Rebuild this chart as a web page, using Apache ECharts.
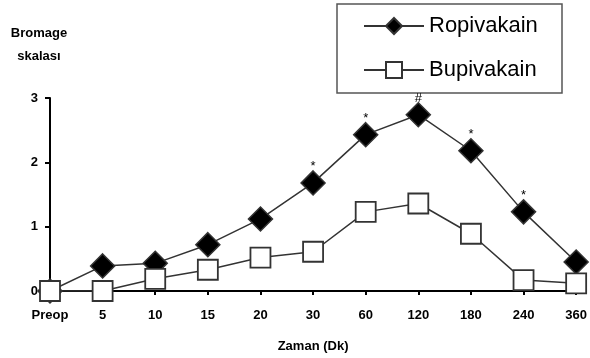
<!DOCTYPE html>
<html><head><meta charset="utf-8">
<script src="https://cdn.jsdelivr.net/npm/echarts@6/dist/echarts.min.js"></script>
<style>html,body{margin:0;padding:0;background:#fff}#c{width:590px;height:358px}</style>
</head><body><div id="c"></div>
<script>
const categories = ["Preop","5","10","15","20","30","60","120","180","240","360"];
const ropivakain = [0,0.39,0.43,0.72,1.12,1.68,2.43,2.74,2.18,1.23,0.45];
const bupivakain = [0,0,0.19,0.33,0.52,0.61,1.23,1.36,0.89,0.17,0.12];
const annotations = ["","","","","","*","*","#","*","*",""];
const yTicks = [0,1,2,3];

const chart = echarts.init(document.getElementById('c'));
const font = 'Arial, "Liberation Sans", sans-serif';
chart.setOption({
  animation:false,
  backgroundColor:'#fff',
  grid:{left:50,right:13,top:98,bottom:63,containLabel:false},
  legend:{
    orient:'vertical', left:358, top:10, itemGap:22, itemWidth:60, itemHeight:20,
    textStyle:{fontFamily:font,fontSize:22,color:'#000'},
    data:['Ropivakain','Bupivakain']
  },
  graphic:[{type:'rect',shape:{x:337,y:4,width:225,height:89},style:{fill:'none',stroke:'#555',lineWidth:1.5},z:-1},
    {type:'text',x:39,y:22,style:{text:'Bromage\nskalası',font:'bold 13px '+font,fill:'#000',align:'center',lineHeight:23}}],
  xAxis:{type:'category',data:categories,boundaryGap:false,
    name:'Zaman (Dk)',nameLocation:'middle',nameGap:49,
    nameTextStyle:{fontFamily:font,fontSize:13,fontWeight:'bold',color:'#000'},
    axisLine:{lineStyle:{color:'#000',width:2}},
    axisTick:{inside:false,length:4,lineStyle:{color:'#000',width:2}},
    axisLabel:{fontFamily:font,fontSize:13,fontWeight:'bold',color:'#000',margin:18}},
  yAxis:{type:'value',min:0,max:3,interval:1,
    axisLine:{show:true,lineStyle:{color:'#000',width:2}},
    axisTick:{show:true,length:5,lineStyle:{color:'#000',width:2}},
    splitLine:{show:false},
    axisLabel:{fontFamily:font,fontSize:13,fontWeight:'bold',color:'#000',margin:12,
      formatter:v=>yTicks.includes(v)?String(v):''}},
  series:[
    {name:'Ropivakain',type:'line',data:ropivakain,symbol:'diamond',symbolSize:[24,24],
      itemStyle:{color:'#000',borderColor:'#333',borderWidth:1.5},
      lineStyle:{color:'#333',width:1.5},z:2,
      label:{show:true,position:'top',distance:-3,fontFamily:font,fontSize:13,color:'#000',
        formatter:p=>annotations[p.dataIndex]}},
    {name:'Bupivakain',type:'line',data:bupivakain,symbol:'rect',symbolSize:20,
      itemStyle:{color:'#fff',borderColor:'#333',borderWidth:1.8},
      lineStyle:{color:'#333',width:1.5},z:3}
  ]
});
</script></body></html>
